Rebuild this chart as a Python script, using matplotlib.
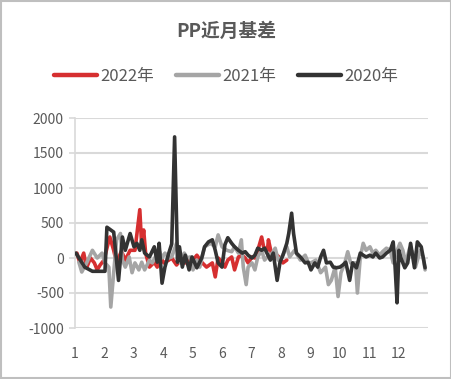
import matplotlib
matplotlib.use("Agg")
import matplotlib.pyplot as plt
from matplotlib.patches import Rectangle

plt.rcParams["font.family"] = ["Noto Sans CJK SC", "DejaVu Sans"]
plt.rcParams["axes.unicode_minus"] = False

# --- data: day of year -> basis (yuan/t) ---
day_2022 = [2, 5, 9, 12, 16, 20, 23, 26, 30, 33, 36, 40, 43, 48, 52, 57, 62, 67, 69, 71,
            73, 77, 82, 85, 88, 92, 97, 100, 105, 109, 114, 119, 122, 126, 131, 136, 142,
            145, 148, 152, 155, 158, 162, 165, 169, 173, 176, 179, 183, 186, 189, 193, 195,
            199, 200, 203, 205, 209, 212, 215, 219]
val_2022 = [70, -70, 70, -140, 0, -70, -170, -100, -30, 140, 300, 110, -70, 100, -30, 110,
            110, 690, 160, 400, 70, -130, -60, -130, 15, -70, -30, 0, -100, -30, -70, -30,
            -30, 40, -60, -130, -70, -270, 0, -60, -130, -30, 15, -170, 15, 40, 0, -70, 15,
            0, 110, 300, 160, 110, 260, 70, 0, 40, 0, -70, -30]

day_2021 = [4, 7, 12, 18, 23, 28, 31, 35, 37, 40, 43, 47, 49, 52, 56, 59, 62, 66, 69, 72,
            77, 80, 83, 87, 90, 93, 97, 100, 105, 109, 113, 116, 119, 122, 126, 129, 134,
            140, 145, 148, 152, 157, 162, 165, 169, 172, 174, 177, 179, 183, 186, 189, 193,
            196, 199, 204, 207, 210, 214, 219, 222, 227, 233, 238, 241, 244, 249, 254, 259,
            262, 265, 269, 272, 275, 279, 282, 285, 290, 292, 295, 298, 301, 305, 308, 311,
            315, 318, 322, 326, 329, 332, 336, 339, 342, 346, 349, 352, 357, 360, 362]
val_2021 = [-60, -200, -70, 110, 0, 70, -70, -130, -700, -210, 260, 350, -30, -130, 15,
            -210, -70, -170, -60, -170, -30, -70, 15, 110, 0, 70, 0, 15, 210, -70, 70, 0,
            15, -170, -30, -130, 160, 210, 160, 330, 160, 110, 90, 160, 70, 260, -130, -380,
            -130, -70, -170, 15, 110, -30, 15, 70, 140, -30, 15, 160, 15, 110, -30, 40, -60,
            -70, -30, -210, -130, -380, -320, -130, -550, -210, -70, 90, -70, -70, -500, 15,
            210, 110, 160, 70, 110, 40, 90, 140, 110, -70, 70, 210, 110, -70, 140, 90, -130,
            110, 15, -170]

day_2020 = [1, 10, 18, 31, 33, 40, 45, 49, 52, 57, 61, 64, 67, 69, 72, 77, 82, 85, 87, 90,
            93, 97, 100, 103, 106, 108, 111, 114, 118, 121, 126, 131, 134, 138, 142, 145,
            148, 152, 155, 158, 162, 165, 169, 173, 176, 179, 183, 186, 189, 193, 196, 202,
            205, 209, 212, 215, 219, 221, 224, 226, 229, 233, 238, 241, 244, 248, 251, 254,
            257, 260, 264, 267, 270, 274, 277, 280, 284, 287, 291, 295, 298, 301, 305, 308,
            311, 315, 318, 322, 326, 329, 331, 333, 335, 337, 341, 344, 347, 351, 354, 358,
            362]
val_2020 = [70, -130, -190, -190, 440, 370, -320, 300, 110, 350, 160, 210, 110, 260, 70, 15,
            160, -60, 210, -360, -130, 70, 200, 1730, -60, 160, -130, 40, -170, 15, -140, 0,
            160, 230, 260, 110, -70, -130, 190, 290, 210, 160, 110, 70, 90, 40, 0, 40, 140,
            110, 140, -30, 70, -320, -60, 40, 210, 350, 640, 350, 70, 15, -70, -60, -170,
            -70, -130, 15, 110, -70, -60, -130, -140, -130, -100, -60, -320, -70, -140, 70,
            40, 15, 40, 15, 70, 0, 15, 70, 110, 230, -130, -640, 110, 0, -140, -70, 210,
            -140, 230, 160, -140]

months = [str(m) for m in range(1, 13)]
series = [("2022年", day_2022, val_2022, "#D62F30"),
          ("2021年", day_2021, val_2021, "#A5A5A5"),
          ("2020年", day_2020, val_2020, "#333333")]

txt = "#595959"
grid = "#D9D9D9"

fig = plt.figure(figsize=(4.52, 3.79), dpi=100)
ax = fig.add_axes([75 / 452, 1 - 328 / 379, 353 / 452, 210 / 379])

for z, (name, d, v, c) in enumerate(series):
    ax.plot(d, v, color=c, lw=2.6, label=name, zorder=3 + z,
            solid_joinstyle="round", solid_capstyle="round")

ax.axhline(0, color=grid, lw=1.2, zorder=1)
ax.set_xlim(0, 365)
ax.set_ylim(-1000, 2000)
ax.set_yticks(range(-1000, 2001, 500))
ax.set_xticks([i * 365 / 12 for i in range(12)])
ax.set_xticklabels(months)
ax.grid(axis="y", color=grid, lw=1.5, zorder=0)
for s in ["top", "right", "bottom"]:
    ax.spines[s].set_visible(False)
ax.spines["left"].set_color(grid)
ax.spines["left"].set_linewidth(1.2)
ax.tick_params(axis="y", length=4, color=grid, width=1.2, pad=4, labelsize=10, labelcolor=txt)
ax.tick_params(axis="x", length=0, pad=14, labelsize=10, labelcolor=txt)

fig.text(0.5, 1 - 31 / 379, "PP近月基差", ha="center", va="center",
         fontsize=13.5, fontweight="bold", color=txt)
fig.legend(loc="center", bbox_to_anchor=(0.5, 1 - 76 / 379), ncol=3, frameon=False,
           fontsize=12, handlelength=2.6, handletextpad=0.2, columnspacing=1.3,
           labelcolor=txt)
for h in fig.legends[0].get_lines():
    h.set_linewidth(3.2)

fig.patches.append(Rectangle((0.002, 0.003), 0.995, 0.994, transform=fig.transFigure,
                             fill=False, edgecolor="#BFBFBF", lw=1.5))
fig.savefig("out.png", dpi=100)
